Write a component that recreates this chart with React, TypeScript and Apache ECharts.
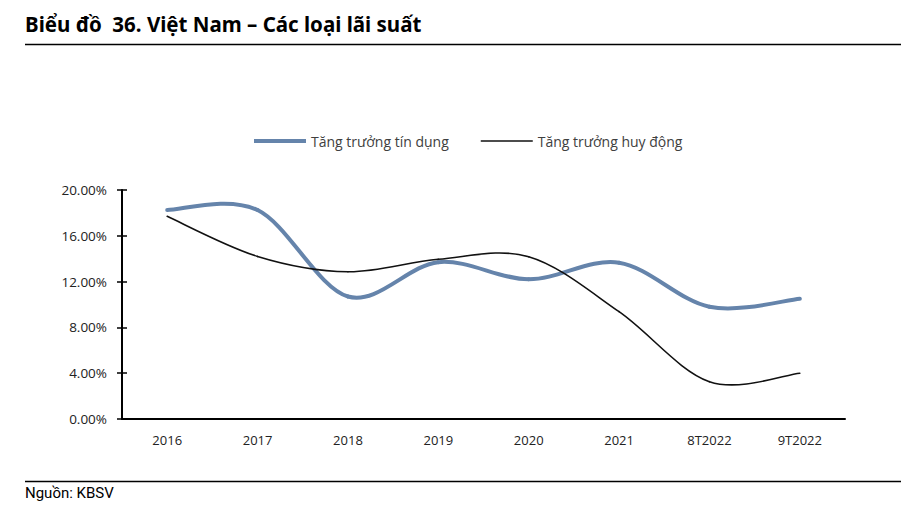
import React, { useEffect, useRef } from "react";
import * as echarts from "echarts";

const categories = ["2016", "2017", "2018", "2019", "2020", "2021", "8T2022", "9T2022"];
const creditGrowth = [18.25, 18.25, 10.7, 13.7, 12.2, 13.65, 9.8, 10.5];
const depositGrowth = [17.7, 14.2, 12.86, 13.95, 14.17, 9.37, 3.26, 4.0];
const yTicks = { min: 0, max: 20, interval: 4 };
const seriesNames = ["Tăng trưởng tín dụng", "Tăng trưởng huy động"];
const titleText = "Biểu đồ  36. Việt Nam – Các loại lãi suất";
const sourceText = "Nguồn: KBSV";

const BLUE = "#6584ab";
const BLACK = "#111111";

// Excel-style smoothed line: each data item draws the cubic segment to the next point
function smoothSegment(values: number[], color: string, width: number) {
  return (params: any, api: any) => {
    const i = params.dataIndex;
    if (i >= values.length - 1) return null;
    const pt = (k: number) => {
      const kk = Math.max(0, Math.min(values.length - 1, k));
      return api.coord([kk, values[kk]]);
    };
    const p0 = pt(i - 1);
    const p1 = pt(i);
    const p2 = pt(i + 1);
    const p3 = pt(i + 2);
    const t = 1 / 6;
    return {
      type: "bezierCurve",
      shape: {
        x1: p1[0],
        y1: p1[1],
        cpx1: p1[0] + (p2[0] - p0[0]) * t,
        cpy1: p1[1] + (p2[1] - p0[1]) * t,
        cpx2: p2[0] - (p3[0] - p1[0]) * t,
        cpy2: p2[1] - (p3[1] - p1[1]) * t,
        x2: p2[0],
        y2: p2[1],
      },
      style: { stroke: color, lineWidth: width, fill: "none", lineCap: "round" },
    };
  };
}

export default function App() {
  const ref = useRef<HTMLDivElement>(null);
  useEffect(() => {
    if (!ref.current) return;
    const chart = echarts.init(ref.current, null, { renderer: "svg" });
    const font = "'Open Sans', 'Noto Sans', sans-serif";
    chart.setOption({
      animation: false,
      backgroundColor: "#ffffff",
      textStyle: { fontFamily: font },
      graphic: [
        {
          type: "text",
          left: 25,
          top: 13,
          style: { text: titleText, font: "bold 20.5px 'Noto Sans', sans-serif", fill: "#000" },
        },
        {
          type: "line",
          shape: { x1: 25, y1: 44.5, x2: 901, y2: 44.5 },
          style: { stroke: "#000", lineWidth: 1.5 },
        },
        {
          type: "line",
          shape: { x1: 25, y1: 481.5, x2: 901, y2: 481.5 },
          style: { stroke: "#000", lineWidth: 1.5 },
        },
        {
          type: "text",
          left: 25,
          top: 485,
          style: { text: sourceText, font: "15px Roboto, sans-serif", fill: "#000" },
        },
      ],
      legend: {
        top: 129,
        left: 249,
        itemWidth: 52,
        itemHeight: 10,
        itemGap: 32,
        textStyle: { fontSize: 14, color: "#404040", fontFamily: font },
        data: [
          { name: seriesNames[0], icon: "path://M0 0H52V4H0Z", itemStyle: { color: BLUE } },
          { name: seriesNames[1], icon: "path://M0 0H52V1.6H0Z", itemStyle: { color: BLACK } },
        ],
      },
      grid: { left: 122, right: 75, top: 190, bottom: 99, containLabel: false },
      xAxis: {
        type: "category",
        data: categories,
        boundaryGap: true,
        axisLine: { lineStyle: { color: "#000", width: 2 } },
        axisTick: { inside: true, length: 6, lineStyle: { color: "#000", width: 1.5 } },
        axisLabel: { color: "#222", fontSize: 13, margin: 14, fontFamily: font },
      },
      yAxis: [
        {
          type: "value",
          ...yTicks,
          axisLine: { show: true, lineStyle: { color: "#000", width: 2 } },
          axisTick: { show: true, length: 5, lineStyle: { color: "#000", width: 1.5 } },
          axisLabel: {
            color: "#222",
            fontSize: 13.5,
            margin: 15,
            fontFamily: font,
            formatter: (v: number) => v.toFixed(2) + "%",
          },
          splitLine: { show: false },
        },
        {
          type: "value",
          position: "left",
          ...yTicks,
          axisLine: { show: false },
          axisTick: { show: true, inside: true, length: 5, lineStyle: { color: "#000", width: 1.5 } },
          axisLabel: { show: false },
          splitLine: { show: false },
        },
      ],
      series: [
        {
          name: seriesNames[0],
          type: "custom",
          data: creditGrowth.map((v, i) => [i, v]),
          encode: { x: 0, y: 1 },
          itemStyle: { color: BLUE },
          renderItem: smoothSegment(creditGrowth, BLUE, 4),
          z: 3,
        },
        {
          name: seriesNames[1],
          type: "custom",
          data: depositGrowth.map((v, i) => [i, v]),
          encode: { x: 0, y: 1 },
          itemStyle: { color: BLACK },
          renderItem: smoothSegment(depositGrowth, BLACK, 1.6),
          z: 4,
        },
      ],
    });
    return () => chart.dispose();
  }, []);
  return <div ref={ref} style={{ width: 920, height: 518, position: "absolute", left: 0, top: 0 }} />;
}
